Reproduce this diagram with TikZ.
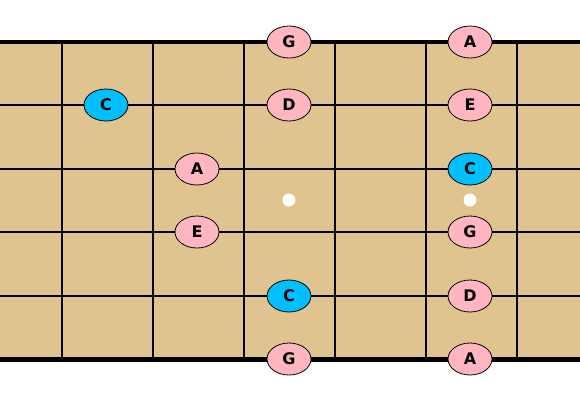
\documentclass[tikz,border=0pt]{standalone}
\usepackage{fontspec}
\setmainfont{DejaVu Sans}
\usepackage{tikz}
\usetikzlibrary{calc, shapes.geometric}
\usepackage{xcolor}
\definecolor{wood}{RGB}{224,196,143}
\definecolor{rootblue}{RGB}{0,191,255}
\definecolor{notepink}{RGB}{255,182,193}

\tikzset{
  note/.style={ellipse, draw=black, line width=0.8pt, fill=notepink,
    minimum width=44pt, minimum height=32pt, inner sep=0pt,
    font=\fontsize{16}{18}\selectfont\bfseries},
  root/.style={note, fill=rootblue},
  inlay/.style={circle, fill=white, minimum size=13pt, inner sep=0pt}
}

\begin{document}
\begin{tikzpicture}[x=1pt, y=-1pt]
  \useasboundingbox (0,0) rectangle (580,400);

  % Draw the board
  \coordinate (B_TL) at (0, 42);
  \coordinate (B_BR) at (580, 359);
  \fill[wood] (B_TL) rectangle (B_BR);

  % Frets
  \foreach \k in {0,...,5}
    \draw[line width=2pt] ({62+91*\k}, 42) -- ({62+91*\k}, 359);

  % Strings (outer ones heavier)
  \foreach \s in {1,...,4}
    \draw[line width=2pt] (0, {42+63.4*\s}) -- (580, {42+63.4*\s});
  \draw[line width=4pt] (0, 42) -- (580, 42);
  \draw[line width=5pt] (0, 359) -- (580, 359);

  % Inlay dots
  \node[inlay] (dot3) at (289, 200) {};
  \node[inlay] (dot5) at (470, 200) {};

  % Notes, one row per string
  \node[note] (G1) at (289, 42) {G};
  \node[note] (A1) at (470, 42) {A};

  \node[root] (C2) at (106, 105) {C};
  \node[note] (D2) at (289, 105) {D};
  \node[note] (E2) at (470, 105) {E};

  \node[note] (A3) at (197, 169) {A};
  \node[root] (C3) at (470, 169) {C};

  \node[note] (E4) at (197, 232) {E};
  \node[note] (G4) at (470, 232) {G};

  \node[root] (C5) at (289, 296) {C};
  \node[note] (D5) at (470, 296) {D};

  \node[note] (G6) at (289, 359) {G};
  \node[note] (A6) at (470, 359) {A};
\end{tikzpicture}
\end{document}
